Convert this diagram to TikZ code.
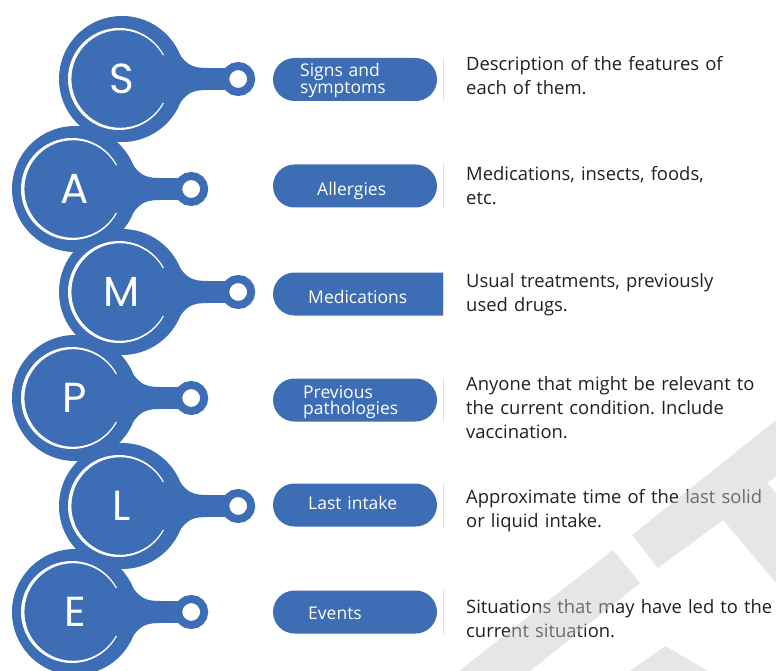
\documentclass[tikz,border=0pt]{standalone}
\usepackage{fontspec}
\setmainfont{Open Sans}
\newfontfamily\letterfont{Poppins}
\usepackage{tikz}
\usetikzlibrary{shapes,positioning,backgrounds}
\definecolor{sampleblue}{HTML}{3D6DB5}
\definecolor{textdark}{HTML}{231F20}
\definecolor{markgray}{HTML}{C8C8C8}
\frenchspacing

\begin{document}
\begin{tikzpicture}[x=1pt, y=-1pt,
    token/.style={circle, fill=sampleblue, minimum size=126pt, inner sep=0pt, text=white, font=\letterfont\fontsize{42}{42}\selectfont},
    knob/.style={circle, draw=sampleblue, line width=8pt, fill=white, minimum size=26pt, inner sep=0pt},
    neck/.style={sampleblue, line width=22pt},
    pill/.style={rounded rectangle, fill=sampleblue, minimum width=164pt, minimum height=43pt, inner sep=0pt},
    pilltext/.style={anchor=base west, inner sep=0pt, text=white, text width=150pt, align=left, font=\fontsize{17.5}{16.5}\selectfont},
    desc/.style={anchor=base west, inner sep=0pt, text=textdark, text width=330pt, align=left, font=\fontsize{18.4}{24}\selectfont},
    divider/.style={draw=gray!25, line width=0.8pt},
    watermark/.style={fill=markgray, opacity=0.45}]
    \useasboundingbox (0,0) rectangle (776,671);

    % the SAMPLE tokens
    \node[token] (S) at (122,79) {S};
    \node[token] (A) at (75,189) {A};
    \node[token] (M) at (122,292) {M};
    \node[token] (P) at (75,398) {P};
    \node[token] (L) at (122,506) {L};
    \node[token] (E) at (75,612) {E};

    \node[knob, right=36pt of S] (knobS) {};
    \node[knob, right=36pt of A] (knobA) {};
    \node[knob, right=36pt of M] (knobM) {};
    \node[knob, right=36pt of P] (knobP) {};
    \node[knob, right=36pt of L] (knobL) {};
    \node[knob, right=36pt of E] (knobE) {};

    \begin{scope}[on background layer]
    \foreach \n in {S,A,M,P,L,E}{
        \draw[neck] (\n.center) -- (knob\n.center);
        \fill[sampleblue] ([shift={(58,-24)}]\n.center) .. controls ([shift={(66,-13)}]\n.center) and ([shift={(72,-11)}]\n.center) .. ([shift={(86,-11)}]\n.center)
            -- ([shift={(86,11)}]\n.center) .. controls ([shift={(72,11)}]\n.center) and ([shift={(66,13)}]\n.center) .. ([shift={(58,24)}]\n.center) -- cycle;
    }
    \end{scope}

    % white rings
    \foreach \n in {S,A,M,P,L,E}{
        \begin{scope}
        \clip ([shift={(-3,0)}]\n.center) -- ++(80,43) -- ++(-160,37) -- ++(0,-160) -- ++(160,37) -- cycle;
        \fill[white, even odd rule] ([shift={(-3,0)}]\n.center) circle[radius=51] ([shift={(-1.8,0)}]\n.center) circle[radius=48.8];
        \end{scope}
    }

    % labels
    \node[pill] (boxS) at (355,79.5) {};
    \node[pill] (boxA) at (355,186) {};
    \node[pill, rounded rectangle right arc=none, minimum width=170pt] (boxM) at (358,294) {};
    \node[pill] (boxP) at (355,400) {};
    \node[pill] (boxL) at (355,505) {};
    \node[pill] (boxE) at (355,612) {};
    \foreach \n in {S,A,M,P,L,E}
        \draw[divider] (443,0 |- box\n.north) -- (443,0 |- box\n.south);

    \node[pilltext] (lblS) at (300,77) {Signs and\\symptoms};
    \node[pilltext] (lblA) at (317,196) {Allergies};
    \node[pilltext] (lblM) at (308,303) {Medications};
    \node[pilltext] (lblP) at (303,398) {Previous\\pathologies};
    \node[pilltext] (lblL) at (308,509) {Last intake};
    \node[pilltext] (lblE) at (308,619) {Events};

    \node[desc] (descS) at (466,71) {Description of the features of\\each of them.};
    \node[desc] (descA) at (466,181) {Medications, insects, foods,\\etc.};
    \node[desc] (descM) at (466,287) {Usual treatments, previously\\used drugs.};
    \node[desc] (descP) at (466,390) {Anyone that might be relevant to\\the current condition. Include\\vaccination.};
    \node[desc] (descL) at (466,503) {Approximate time of the last solid\\or liquid intake.};
    \node[desc] (descE) at (466,613) {Situations that may have led to the\\current situation.};

    % watermark
    \fill[watermark] (459,671) -- (613,550) -- (640,583) -- (530,671) -- cycle;
    \fill[watermark] (776,420) -- (632,535) -- (658,568) -- (723,520) -- (776,583) -- (776,493) -- (767,483) -- (776,477) -- cycle;
    \fill[watermark] (630,671) -- (665,646) -- (708,671) -- cycle;

\end{tikzpicture}
\end{document}
